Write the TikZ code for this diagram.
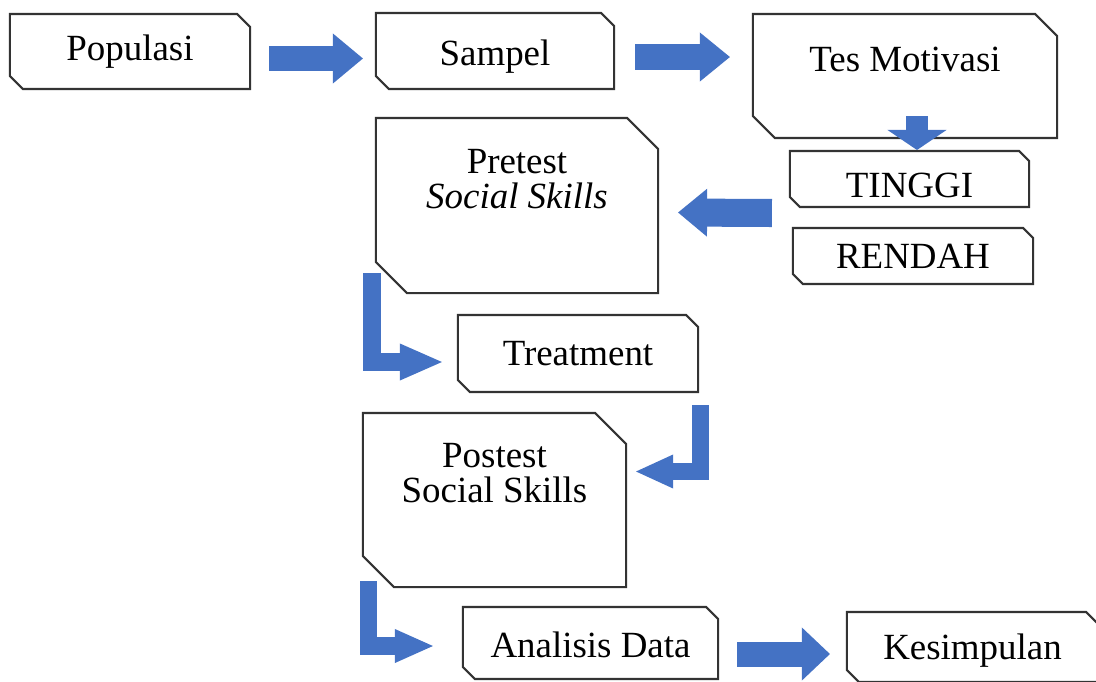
\documentclass[tikz,border=0pt]{standalone}
\usepackage{fontspec}
\setmainfont{Liberation Serif}
\usetikzlibrary{arrows.meta}
\definecolor{arrblue}{HTML}{4472C4}

\begin{document}
\begin{tikzpicture}[x=0.01cm,y=-0.01cm,font=\fontsize{10.5}{10}\selectfont,
	box/.style={rectangle,inner sep=0pt,outer sep=0pt,append after command={\pgfextra{
		\draw[black!80,line width=0.6pt,line join=miter] ([xshift=-#1]\tikzlastnode.north east) -- ([yshift=-#1]\tikzlastnode.north east)
			-- (\tikzlastnode.south east) -- ([xshift=#1]\tikzlastnode.south west) -- ([yshift=#1]\tikzlastnode.south west)
			-- (\tikzlastnode.north west) -- cycle;}}},
	blk/.style={draw=arrblue,line width=#1,line cap=butt,line join=miter}]
	\useasboundingbox (0,0) rectangle (1096,681);

	% kotak-kotak
	\node[box=0.13cm,minimum width=2.40cm,minimum height=0.75cm] (pop) at (130,51.5) {Populasi};
	\node[box=0.13cm,minimum width=2.38cm,minimum height=0.76cm,label={[yshift=-0.06cm]center:Sampel}] (samp) at (495,51) {};
	\node[box=0.22cm,minimum width=3.04cm,minimum height=1.24cm,label={[yshift=0.17cm]center:Tes Motivasi}] (tes) at (905,76) {};
	\node[box=0.10cm,minimum width=2.39cm,minimum height=0.56cm,label={[yshift=-0.06cm]center:TINGGI}] (ting) at (909.5,179) {};
	\node[box=0.10cm,minimum width=2.40cm,minimum height=0.56cm] (rend) at (913,256) {RENDAH};
	\node[box=0.31cm,minimum width=2.82cm,minimum height=1.75cm,
		label={[yshift=0.26cm,align=center]center:Pretest\\\textit{Social Skills}}] (pre) at (517,205.5) {};
	\node[box=0.12cm,minimum width=2.40cm,minimum height=0.77cm] (treat) at (578,353.5) {Treatment};
	\node[box=0.31cm,minimum width=2.63cm,minimum height=1.74cm,
		label={[yshift=0.27cm,align=center]center:Postest\\Social Skills}] (post) at (494.5,500) {};
	\node[box=0.12cm,minimum width=2.55cm,minimum height=0.72cm,label={[yshift=-0.02cm]center:Analisis Data}] (anal) at (590.5,643) {};
	\node[box=0.12cm,minimum width=2.51cm,minimum height=0.70cm,label={[yshift=-0.04cm]center:Kesimpulan}] (kes) at (972.5,647) {};

	% panah biru
	\draw[blk=0.25cm,-{Triangle[length=0.30cm,width=0.50cm,line width=0pt]}] ([shift={(19,7)}]pop.east) -- ([shift={(-13,7.5)}]samp.west);
	\draw[blk=0.26cm,-{Triangle[length=0.30cm,width=0.49cm,line width=0pt]}] ([shift={(21,6)}]samp.east) -- ([shift={(-23,-19)}]tes.west);
	\draw[blk=0.22cm,-{Triangle[length=0.20cm,width=0.59cm,line width=0pt]}] ([shift={(12,-22)}]tes.south) -- ([shift={(7.5,-1)}]ting.north);
	\draw[blk=0.28cm,-{Triangle[length=0.29cm,width=0.48cm,line width=0pt]}] ([shift={(-18,34)}]ting.west) -- ([shift={(20,7)}]pre.east);
	\draw[blk=0.18cm,-{Triangle[length=0.42cm,width=0.37cm,line width=0pt]}] ([shift={(-4,-20)}]pre.south west) |- ([shift={(-16,8.5)}]treat.west);
	\draw[blk=0.17cm,-{Triangle[length=0.37cm,width=0.34cm,line width=0pt]}] ([shift={(2.5,13)}]treat.south east) |- ([shift={(10,-28.5)}]post.east);
	\draw[blk=0.175cm,-{Triangle[length=0.38cm,width=0.34cm,line width=0pt]}] ([shift={(5.5,-6)}]post.south west) |- ([shift={(-30,3)}]anal.west);
	\draw[blk=0.25cm,-{Triangle[length=0.28cm,width=0.53cm,line width=0pt]}] ([shift={(19,11)}]anal.east) -- ([shift={(-17,7)}]kes.west);
\end{tikzpicture}
\end{document}
